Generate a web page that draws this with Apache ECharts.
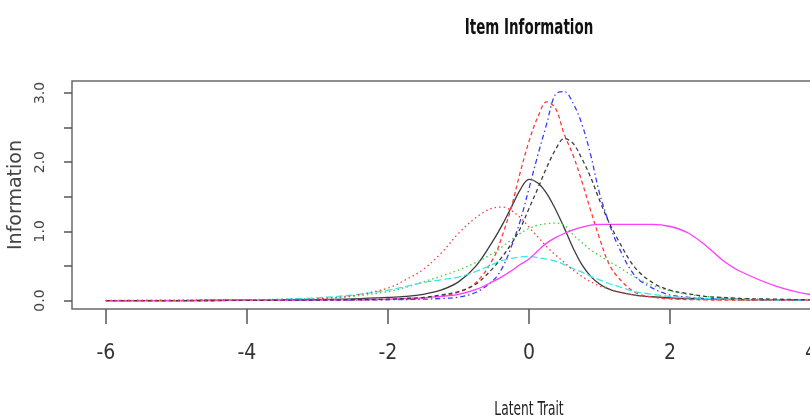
<!DOCTYPE html>
<html>
<head>
<meta charset="utf-8">
<title>Item Information</title>
<script src="https://cdn.jsdelivr.net/npm/echarts@6/dist/echarts.min.js"></script>
<style>
  html, body { margin: 0; padding: 0; background: #fff; }
  #chart { width: 810px; height: 419px; }
</style>
</head>
<body>
<div id="chart"></div>
<script>
// theta grid (latent trait) the curves were read at
const theta = [-6, -5, -4, -3.5, -3, -2.5, -2, -1.75, -1.5, -1.25, -1, -0.75, -0.5, -0.375, -0.25, -0.125,
  0, 0.125, 0.25, 0.375, 0.5, 0.625, 0.75, 0.875, 1, 1.125, 1.25, 1.5, 1.75, 2, 2.25, 2.5, 2.75, 3, 3.5, 4, 4.5, 5, 6];

// information per item
const item1 = [0, 0, 0.005, 0.01, 0.015, 0.025, 0.045, 0.06, 0.09, 0.15, 0.27, 0.5, 0.88, 1.1, 1.35, 1.6,
  1.75, 1.7, 1.55, 1.32, 1.05, 0.76, 0.52, 0.35, 0.24, 0.17, 0.13, 0.08, 0.055, 0.04, 0.03, 0.025, 0.02, 0.015, 0.01, 0.007, 0.005, 0.003, 0];
const item2 = [0, 0, 0.002, 0.003, 0.005, 0.008, 0.015, 0.02, 0.035, 0.065, 0.12, 0.26, 0.62, 0.95, 1.35, 1.85,
  2.3, 2.65, 2.87, 2.78, 2.4, 2.1, 1.72, 1.3, 0.9, 0.55, 0.35, 0.12, 0.05, 0.025, 0.015, 0.01, 0.007, 0.005, 0.003, 0.002, 0.001, 0, 0];
const item3 = [0, 0.002, 0.01, 0.018, 0.03, 0.06, 0.13, 0.19, 0.27, 0.35, 0.44, 0.55, 0.69, 0.78, 0.88, 0.97,
  1.04, 1.09, 1.11, 1.12, 1.09, 0.95, 0.84, 0.73, 0.65, 0.57, 0.5, 0.34, 0.22, 0.14, 0.09, 0.06, 0.04, 0.03, 0.015, 0.008, 0.004, 0.002, 0];
const item4 = [0, 0, 0.002, 0.003, 0.005, 0.008, 0.012, 0.015, 0.02, 0.03, 0.05, 0.12, 0.3, 0.48, 0.78, 1.15,
  1.62, 2.1, 2.55, 2.98, 3.02, 2.85, 2.55, 2.1, 1.55, 1.15, 0.82, 0.36, 0.18, 0.08, 0.05, 0.03, 0.02, 0.015, 0.008, 0.004, 0.002, 0.001, 0];
const item5 = [0, 0.003, 0.01, 0.02, 0.04, 0.08, 0.15, 0.2, 0.26, 0.3, 0.34, 0.42, 0.53, 0.58, 0.61, 0.63,
  0.64, 0.62, 0.6, 0.57, 0.52, 0.46, 0.41, 0.35, 0.3, 0.25, 0.21, 0.13, 0.09, 0.06, 0.04, 0.03, 0.02, 0.015, 0.008, 0.004, 0.002, 0.001, 0];
const item6 = [0, 0, 0.002, 0.004, 0.007, 0.012, 0.02, 0.03, 0.04, 0.06, 0.09, 0.16, 0.28, 0.35, 0.43, 0.52,
  0.6, 0.72, 0.83, 0.91, 0.97, 1.02, 1.06, 1.09, 1.1, 1.1, 1.1, 1.1, 1.1, 1.07, 0.98, 0.8, 0.58, 0.42, 0.21, 0.085, 0.03, 0.012, 0.001];
const item7 = [0, 0, 0.003, 0.005, 0.008, 0.013, 0.02, 0.03, 0.045, 0.08, 0.13, 0.24, 0.48, 0.64, 0.82, 1.04,
  1.33, 1.62, 1.92, 2.18, 2.34, 2.27, 2.05, 1.78, 1.45, 1.15, 0.9, 0.48, 0.26, 0.15, 0.1, 0.06, 0.045, 0.03, 0.02, 0.01, 0.005, 0.003, 0];
const item8 = [0.002, 0.005, 0.01, 0.015, 0.025, 0.07, 0.18, 0.3, 0.45, 0.68, 0.97, 1.2, 1.34, 1.35, 1.3, 1.2,
  1.06, 0.92, 0.78, 0.66, 0.55, 0.44, 0.35, 0.27, 0.21, 0.17, 0.13, 0.08, 0.05, 0.03, 0.02, 0.015, 0.01, 0.008, 0.005, 0.003, 0.002, 0.001, 0];

const xTicks = [-6, -4, -2, 0, 2, 4, 6];
const yTicks = [0, 0.5, 1, 1.5, 2, 2.5, 3];
const yLabels = [0, 1, 2, 3];

// R matplot style: col 1:6, lty 1:5
const items = [
  { data: item1, color: '#3c3c3c', dash: 'solid' },
  { data: item2, color: '#ff3a3a', dash: [4, 3] },
  { data: item3, color: '#3ccf3c', dash: [1.5, 3] },
  { data: item4, color: '#3a3aff', dash: [1.5, 3, 5, 3] },
  { data: item5, color: '#3ae6e6', dash: [7, 3] },
  { data: item6, color: '#ff3cff', dash: 'solid' },
  { data: item7, color: '#3c3c3c', dash: [4, 3] },
  { data: item8, color: '#ff3a3a', dash: [1.5, 3] },
];

const narrow = "'DejaVu Sans Condensed', 'Liberation Sans', sans-serif";

const chart = echarts.init(document.getElementById('chart'));

chart.setOption({
  animation: false,
  backgroundColor: '#fff',
  // the source image is squeezed sideways, so the horizontal texts are drawn narrowed
  graphic: [
    {
      type: 'text', x: 529, y: 28, scaleX: 0.68,
      style: {
        text: 'Item Information', fontFamily: narrow, fontSize: 22, fontWeight: 'bold',
        fill: '#111', textAlign: 'center', textVerticalAlign: 'middle',
      },
    },
    {
      type: 'text', x: 529, y: 410, scaleX: 0.68,
      style: {
        text: 'Latent Trait', fontFamily: narrow, fontSize: 20,
        fill: '#222', textAlign: 'center', textVerticalAlign: 'middle',
      },
    },
  ],
  grid: {
    left: 72, right: -176, top: 81, bottom: 110,
    outerBoundsMode: 'none',
    show: true, borderColor: '#6a6a6a', borderWidth: 1.5,
  },
  xAxis: {
    type: 'value',
    min: -6.48,
    max: 6.48,
    axisLine: { show: false, onZero: false },
    axisTick: { show: true, customValues: xTicks, length: 15, lineStyle: { color: '#555', width: 1.5 } },
    axisLabel: { customValues: xTicks, margin: 34, fontFamily: narrow, fontSize: 21, color: '#333' },
    splitLine: { show: false },
  },
  yAxis: {
    type: 'value',
    min: -0.122,
    max: 3.172,
    name: 'Information',
    nameLocation: 'middle',
    nameRotate: 90,
    nameGap: 44,
    nameTextStyle: { fontFamily: 'DejaVu Sans', fontSize: 19, color: '#444' },
    axisLine: { show: false, onZero: false },
    axisTick: { show: true, customValues: yTicks, length: 8, lineStyle: { color: '#555', width: 1.5 } },
    axisLabel: {
      customValues: yLabels, rotate: 90, margin: 25,
      fontFamily: 'DejaVu Sans', fontSize: 14, color: '#444',
      formatter: v => v.toFixed(1),
    },
    splitLine: { show: false },
  },
  series: items.map((it, i) => ({
    name: 'Item ' + (i + 1),
    type: 'line',
    data: theta.map((t, j) => [t, it.data[j]]),
    smooth: 0.35,
    symbol: 'none',
    lineStyle: { color: it.color, width: 1.3, type: it.dash },
  })),
});
</script>
</body>
</html>
